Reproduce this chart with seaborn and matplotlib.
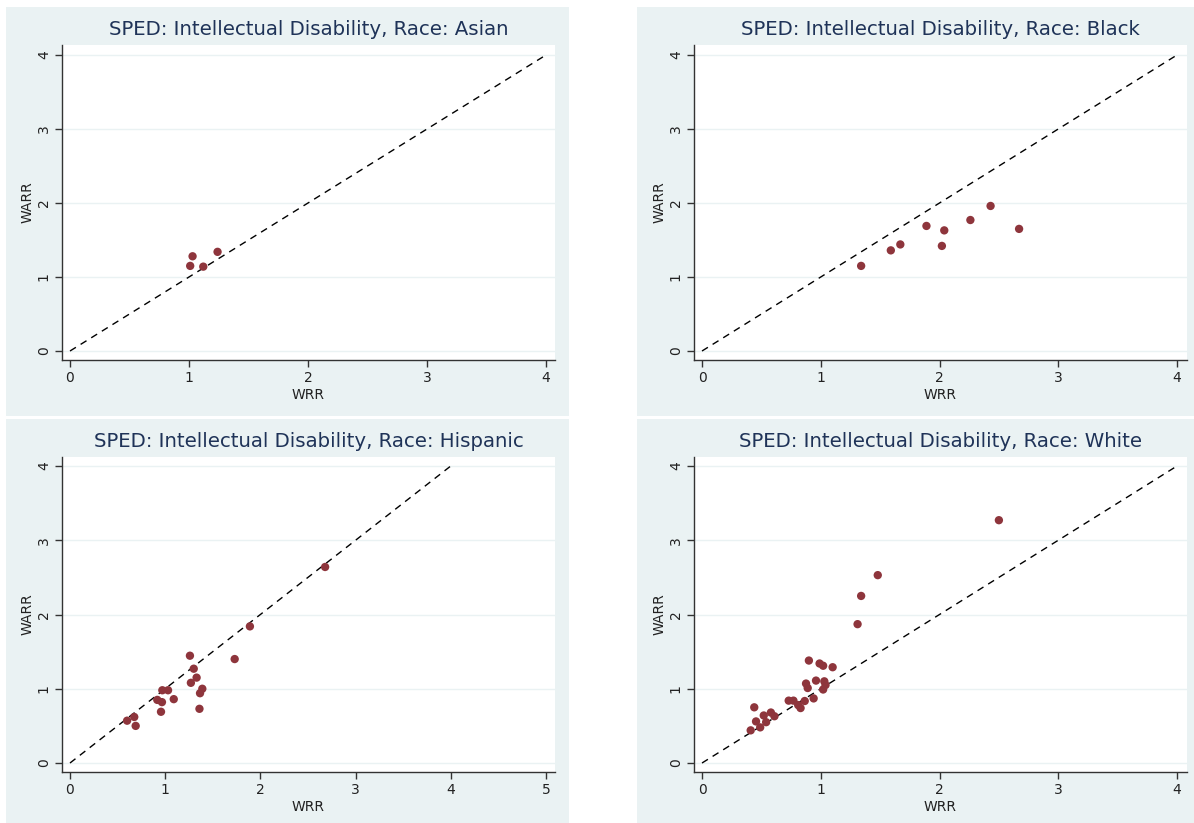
import matplotlib
matplotlib.use("Agg")
import matplotlib.pyplot as plt
import matplotlib.patches as mpatches
import seaborn as sns
import pandas as pd

# ---------------- data ----------------
asian_wrr = [1.01, 1.03, 1.12, 1.24]
asian_warr = [1.15, 1.28, 1.14, 1.34]

black_wrr = [1.34, 1.59, 1.67, 1.89, 2.02, 2.04, 2.26, 2.43, 2.67]
black_warr = [1.15, 1.36, 1.44, 1.69, 1.42, 1.63, 1.77, 1.96, 1.65]

hisp_wrr = [0.60, 0.675, 0.69, 0.956, 0.917, 0.966, 0.97, 1.03, 1.09, 1.26,
            1.30, 1.33, 1.27, 1.39, 1.366, 1.36, 1.73, 1.89, 2.68]
hisp_warr = [0.57, 0.62, 0.50, 0.69, 0.85, 0.82, 0.98, 0.98, 0.86, 1.445,
             1.27, 1.15, 1.08, 1.00, 0.94, 0.73, 1.40, 1.84, 2.64]

white_wrr = [0.41, 0.455, 0.49, 0.44, 0.52, 0.54, 0.58, 0.61, 0.73, 0.77,
             0.81, 0.83, 0.865, 0.876, 0.89, 0.90, 0.94, 0.96, 0.99, 1.02,
             1.02, 1.04, 1.03, 1.10, 1.31, 1.34, 1.48, 2.50]
white_warr = [0.44, 0.56, 0.48, 0.75, 0.64, 0.55, 0.68, 0.63, 0.84, 0.84,
              0.78, 0.74, 0.835, 1.07, 1.01, 1.38, 0.87, 1.11, 1.34, 1.31,
              0.99, 1.05, 1.10, 1.29, 1.87, 2.25, 2.53, 3.27]

diag = [0, 4]

titles = ["SPED: Intellectual Disability, Race: Asian",
          "SPED: Intellectual Disability, Race: Black",
          "SPED: Intellectual Disability, Race: Hispanic",
          "SPED: Intellectual Disability, Race: White"]
x_ticks = [[0, 1, 2, 3, 4], [0, 1, 2, 3, 4], [0, 1, 2, 3, 4, 5], [0, 1, 2, 3, 4]]
y_ticks = [0, 1, 2, 3, 4]

# ---------------- style ----------------
sns.set_style("white")
plt.rcParams['font.family'] = ['DejaVu Sans']

W, H = 1194, 823
fig = plt.figure(figsize=(W / 100, H / 100), dpi=100)
fig.patch.set_facecolor("white")

BG = "#EAF2F3"
DOT = "#8E353C"
TITLE_C = "#1F3358"
AX_C = "#333333"


def frac_rect(x0, x1, ytop, ybot):
    return [x0 / W, 1 - ybot / H, (x1 - x0) / W, (ybot - ytop) / H]


panels_bg = [(6, 569, 7, 416), (637, 1194, 7, 416),
             (6, 569, 419, 823), (637, 1194, 419, 823)]
for (x0, x1, yt, yb) in panels_bg:
    r = frac_rect(x0, x1, yt, yb)
    fig.patches.append(mpatches.Rectangle((r[0], r[1]), r[2], r[3],
                                          transform=fig.transFigure,
                                          facecolor=BG, edgecolor="none", zorder=-10))

axes_px = [(62, 555, 45, 360), (694, 1187, 45, 360),
           (62, 555, 457, 772), (694, 1187, 457, 772)]
xlims = [(-0.0672, 4.0756), (-0.0674, 4.084), (-0.084, 5.095), (-0.0674, 4.084)]
ylims = [(-0.1216, 4.135), (-0.1216, 4.135), (-0.121, 4.121), (-0.121, 4.121)]

data = [(asian_wrr, asian_warr), (black_wrr, black_warr),
        (hisp_wrr, hisp_warr), (white_wrr, white_warr)]

for i in range(4):
    ax = fig.add_axes(frac_rect(*axes_px[i]))
    ax.set_zorder(1)
    ax.set_facecolor("white")
    xs, ys = data[i]
    df = pd.DataFrame({"WRR": xs, "WARR": ys})
    dd = pd.DataFrame({"x": diag, "y": diag})
    for yv in y_ticks:
        ax.axhline(yv, color=BG, lw=1.0, zorder=0)
    sns.lineplot(data=dd, x="x", y="y", ax=ax, color="black", lw=1.0,
                 linestyle=(0, (5, 4)), zorder=2)
    sns.scatterplot(data=df, x="WRR", y="WARR", ax=ax, color=DOT, s=36,
                    edgecolor="none", linewidth=0, zorder=3)
    ax.set_xlim(*xlims[i])
    ax.set_ylim(*ylims[i])
    ax.set_xticks(x_ticks[i])
    ax.set_yticks(y_ticks)
    ax.set_xticklabels([str(t) for t in x_ticks[i]])
    ax.set_yticklabels([str(t) for t in y_ticks], rotation=90, va="center")
    for s in ["top", "right"]:
        ax.spines[s].set_visible(False)
    for s in ["left", "bottom"]:
        ax.spines[s].set_color(AX_C)
        ax.spines[s].set_linewidth(1.0)
    ax.tick_params(axis="both", direction="out", length=5, width=1,
                   color=AX_C, labelsize=10, labelcolor="#222222", pad=3,
                   left=True, bottom=True)
    ax.set_xlabel("WRR", fontsize=10, color="#222222", labelpad=2)
    ax.set_ylabel("WARR", fontsize=10, color="#222222", labelpad=2)
    ax.set_title(titles[i], fontsize=14.2, color=TITLE_C, pad=7)

fig.savefig("out.png", dpi=100, facecolor="white")
